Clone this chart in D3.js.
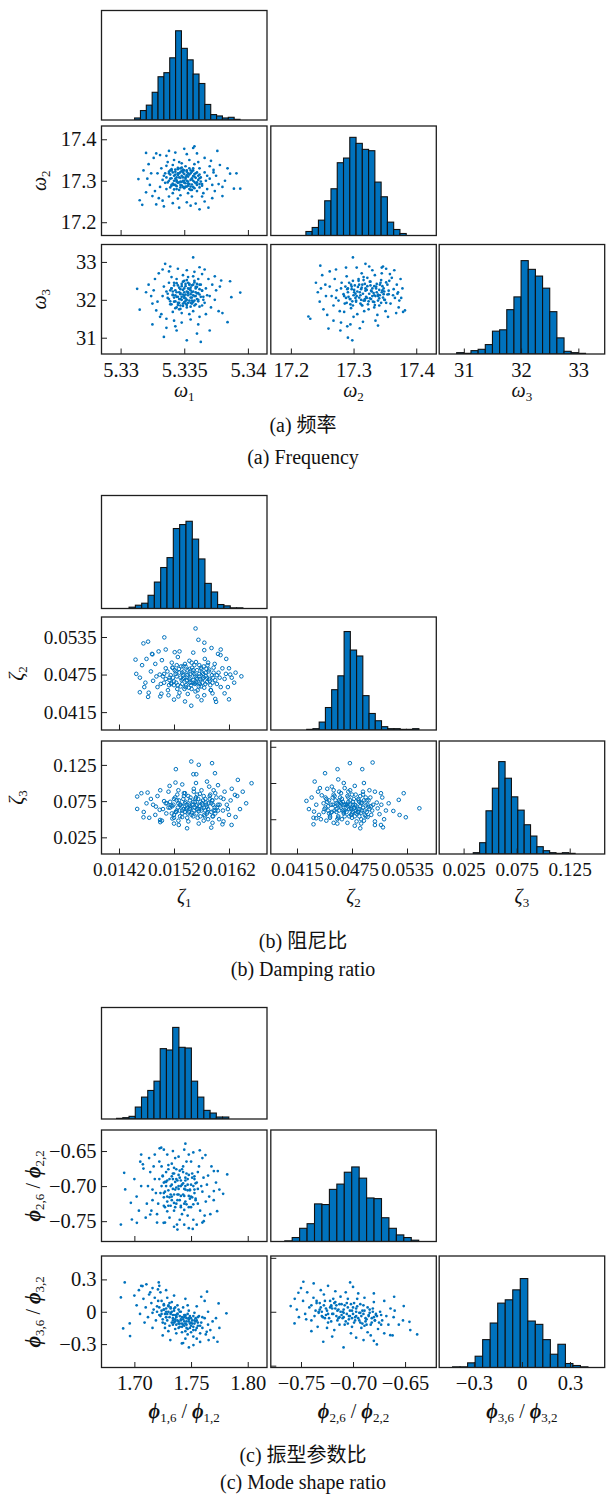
<!DOCTYPE html>
<html>
<head>
<meta charset="utf-8">
<script src="https://cdn.jsdelivr.net/npm/d3@7"></script>
<style>
  body { margin: 0; background: #fff; }
  svg text { font-family: "Liberation Serif", "Times New Roman", "Noto Sans CJK SC", serif; fill: #111; }
</style>
</head>
<body>
<div id="chart"></div>
<script>

// ---------- DATA ----------

// axis limits and ticks
const w1Domain = [5.3285, 5.3415], w2Domain = [17.168, 17.432], w3Domain = [30.57, 33.46];
const z1Domain = [0.013882, 0.016891], z2Domain = [0.038642, 0.056696], z3Domain = [0.002, 0.158];
const p1Domain = [1.671, 1.817], p2Domain = [-0.779, -0.620], p3Domain = [-0.517, 0.517];

const w1Ticks = [5.33, 5.335, 5.34], w1TickLabels = ["5.33", "5.335", "5.34"];
const w2Ticks = [17.2, 17.3, 17.4], w2TickLabels = ["17.2", "17.3", "17.4"];
const w3Ticks = [31, 32, 33], w3TickLabels = ["31", "32", "33"];
const z1Ticks = [0.0142, 0.0152, 0.0162], z1TickLabels = ["0.0142", "0.0152", "0.0162"];
const z2Ticks = [0.0415, 0.0475, 0.0535], z2TickLabels = ["0.0415", "0.0475", "0.0535"];
const z3Ticks = [0.025, 0.075, 0.125], z3TickLabels = ["0.025", "0.075", "0.125"];
const p1Ticks = [1.70, 1.75, 1.80], p1TickLabels = ["1.70", "1.75", "1.80"];
const p2Ticks = [-0.75, -0.70, -0.65], p2TickLabels = ["\u22120.75", "\u22120.70", "\u22120.65"];
const p3Ticks = [-0.3, 0, 0.3], p3TickLabels = ["\u22120.3", "0", "0.3"];

// unlabelled left ticks of the lower middle panels
const z3ExtraTicks = [0.05, 0.10, 0.15];
const p3ExtraTicks = [-0.5, 0, 0.5];

// histograms: [first bin edge, bin width], counts, y limit
const w1Bins = [5.3311, 0.00046], w1Counts = [3, 14, 22, 41, 64, 70, 92, 132, 106, 89, 68, 54, 23, 8, 6, 3, 4, 1], w1YMax = 162;
const w2Bins = [17.224, 0.01], w2Counts = [6, 12, 23, 52, 70, 109, 116, 147, 138, 129, 127, 80, 58, 20, 9, 3], w2YMax = 164;
const w3Bins = [30.875, 0.125], w3Counts = [2, 1, 5, 7, 14, 34, 36, 66, 85, 139, 126, 116, 98, 63, 24, 4, 2, 1], w3YMax = 163;
const z1Bins = [0.014383, 0.000115], z1Counts = [2, 5, 8, 20, 40, 62, 77, 121, 127, 132, 105, 75, 38, 25, 6, 4, 1, 1], z1YMax = 171;
const z2Bins = [0.04256, 0.00068], z2Counts = [1, 2, 12, 34, 61, 82, 149, 121, 112, 52, 25, 14, 5, 2, 2, 1, 1, 2], z2YMax = 171;
const z3Bins = [0.0341, 0.006], z3Counts = [2, 17, 65, 99, 139, 114, 86, 66, 44, 27, 11, 5, 2, 1, 2, 1], z3YMax = 170;
const p1Bins = [1.6843, 0.0055], p1Counts = [1, 2, 4, 18, 33, 43, 57, 106, 104, 138, 108, 107, 57, 33, 13, 9, 3, 3], p1YMax = 168;
const p2Bins = [-0.7656, 0.00715], p2Counts = [1, 6, 20, 27, 57, 56, 79, 87, 105, 113, 96, 66, 65, 36, 20, 10, 6, 2], p2YMax = 169;
const p3Bins = [-0.4335, 0.047], p3Counts = [1, 1, 7, 17, 42, 67, 97, 102, 117, 134, 70, 65, 42, 20, 35, 6, 3, 1], p3YMax = 168;

// scatter samples [x, y]: outer cloud and dense centre
const w1w2Pts = [[5.3314,17.304],[5.3315,17.253],[5.3317,17.242],[5.3320,17.367],[5.3320,17.272],[5.3325,17.263],[5.3328,17.243],[5.3334,17.238],[5.3346,17.235],[5.3357,17.379],[5.3358,17.383],[5.3362,17.231],[5.3369,17.235],[5.3376,17.372],[5.3380,17.263],[5.3386,17.317],[5.3391,17.318],[5.3394,17.281],[5.3389,17.281],[5.3378,17.338],[5.3373,17.326],[5.3338,17.372],[5.3350,17.377],[5.3328,17.366],
[5.3322,17.340],[5.3324,17.318],[5.3323,17.290],[5.3326,17.355],[5.3331,17.362],[5.3336,17.360],[5.3343,17.368],[5.3352,17.364],[5.3360,17.366],[5.3366,17.355],[5.3371,17.348],[5.3375,17.312],[5.3377,17.292],[5.3382,17.300],[5.3374,17.275],[5.3372,17.258],[5.3366,17.250],[5.3359,17.245],[5.3352,17.248],[5.3341,17.246],[5.3333,17.252],[5.3327,17.275],[5.3321,17.305],[5.3384,17.330],[5.3380,17.285],[5.3318,17.325],[5.3330,17.258],[5.3355,17.240],[5.3364,17.262],[5.3345,17.257],
[5.3332,17.330],[5.3334,17.312],[5.3335,17.295],[5.3336,17.280],[5.3337,17.345],[5.3338,17.322],[5.3339,17.305],[5.3340,17.288],[5.3341,17.270],[5.3341,17.338],[5.3342,17.350],[5.3343,17.315],[5.3344,17.298],[5.3344,17.280],[5.3345,17.328],[5.3346,17.308],[5.3347,17.290],[5.3347,17.265],[5.3348,17.342],[5.3349,17.320],[5.3350,17.300],[5.3350,17.282],[5.3351,17.335],[5.3352,17.312],[5.3353,17.293],[5.3353,17.270],[5.3354,17.350],[5.3355,17.325],[5.3356,17.305],[5.3357,17.285],[5.3358,17.340],[5.3359,17.318],[5.3360,17.296],[5.3360,17.275],[5.3362,17.330],[5.3363,17.308],[5.3364,17.288],[5.3366,17.320],[5.3367,17.300],[5.3368,17.280],[5.3370,17.335],[5.3370,17.305],[5.3333,17.302],[5.3336,17.336],[5.3340,17.325],[5.3343,17.305],[5.3346,17.345],[5.3349,17.285],[5.3352,17.325],[5.3355,17.278],[5.3358,17.310],[5.3361,17.345],[5.3365,17.270],[5.3338,17.262],[5.3356,17.262],[5.3345,17.318],[5.3351,17.308],[5.3348,17.297],[5.3342,17.290],[5.3354,17.315],[5.3362,17.292],[5.3339,17.315],[5.3347,17.330],[5.3357,17.330],[5.3331,17.285],[5.3368,17.312],[5.3372,17.290],[5.3329,17.318],[5.3373,17.320]];
const w1w2Core = [[5.3337,17.296],[5.3338,17.318],[5.3339,17.284],[5.3340,17.306],[5.3340,17.328],[5.3341,17.293],[5.3342,17.312],[5.3342,17.279],[5.3343,17.322],[5.3344,17.301],[5.3344,17.287],[5.3345,17.314],[5.3345,17.331],[5.3346,17.296],[5.3346,17.278],[5.3347,17.307],[5.3347,17.321],[5.3348,17.289],[5.3348,17.312],[5.3349,17.300],[5.3349,17.327],[5.3350,17.283],[5.3350,17.316],[5.3351,17.294],[5.3351,17.305],[5.3352,17.322],[5.3352,17.286],[5.3353,17.310],[5.3353,17.298],[5.3354,17.330],[5.3354,17.280],[5.3355,17.302],[5.3355,17.318],[5.3356,17.291],[5.3357,17.311],[5.3357,17.325],[5.3358,17.297],[5.3358,17.282],[5.3359,17.307],[5.3360,17.320],[5.3360,17.290],[5.3361,17.302],[5.3362,17.315],[5.3362,17.284],[5.3363,17.298],[5.3336,17.308],[5.3338,17.300],[5.3341,17.320],[5.3343,17.290],[5.3346,17.318],[5.3348,17.324],[5.3350,17.295],[5.3352,17.300],[5.3354,17.292],[5.3356,17.322],[5.3359,17.294],[5.3361,17.312],[5.3344,17.308],[5.3347,17.284],[5.3351,17.286],[5.3353,17.318],[5.3356,17.305],[5.3339,17.325],[5.3342,17.300],[5.3349,17.308],[5.3355,17.286],[5.3358,17.316],[5.3345,17.295],[5.3350,17.325],[5.3353,17.288],[5.3347,17.298],[5.3352,17.313],[5.3357,17.300],[5.3340,17.290],[5.3362,17.306],[5.3364,17.292],[5.3335,17.318],[5.3348,17.332],[5.3356,17.278],[5.3343,17.327]];

const w1w3Pts = [[5.3313,32.29],[5.3315,31.74],[5.3325,31.35],[5.3334,31.02],[5.3335,32.95],[5.3339,32.88],[5.3352,30.93],[5.3357,33.12],[5.3363,30.89],[5.3362,32.86],[5.3379,32.51],[5.3386,32.49],[5.3384,31.41],[5.3394,32.19],[5.3380,31.65],[5.3387,32.07],[5.3370,31.19],[5.3360,31.11],[5.3344,31.19],[5.3336,31.26],
[5.3338,32.45],[5.3340,32.30],[5.3341,32.12],[5.3342,31.95],[5.3343,31.78],[5.3344,32.55],[5.3345,32.38],[5.3346,32.20],[5.3347,32.02],[5.3347,31.85],[5.3348,31.65],[5.3349,32.48],[5.3350,32.30],[5.3351,32.14],[5.3351,31.97],[5.3352,31.80],[5.3353,32.60],[5.3354,32.42],[5.3355,32.25],[5.3355,32.06],[5.3356,31.90],[5.3357,31.70],[5.3358,32.50],[5.3359,32.34],[5.3360,32.17],[5.3361,32.00],[5.3362,31.82],[5.3363,32.40],[5.3364,32.24],[5.3365,32.08],[5.3366,31.92],[5.3336,32.22],[5.3337,32.05],[5.3339,31.88],[5.3340,32.60],[5.3343,32.25],[5.3345,31.92],[5.3348,32.36],[5.3350,32.05],[5.3352,32.52],[5.3353,32.20],[5.3356,31.98],[5.3357,32.40],[5.3359,32.10],[5.3361,32.55],[5.3362,32.28],[5.3364,31.85],[5.3367,32.30],[5.3368,32.12],[5.3346,31.75],[5.3354,31.62],[5.3341,31.68],[5.3334,32.35],[5.3333,32.10],[5.3349,32.65],[5.3357,32.62],[5.3344,32.08],[5.3358,31.85],[5.3351,32.42],[5.3347,32.15],[5.3353,31.92],[5.3360,32.42],[5.3342,32.45],[5.3355,32.32],[5.3349,31.90],
[5.3322,32.40],[5.3324,32.10],[5.3325,31.90],[5.3327,32.55],[5.3328,31.72],[5.3330,32.70],[5.3331,31.55],[5.3333,32.80],[5.3336,31.50],[5.3338,32.75],[5.3342,31.45],[5.3345,32.82],[5.3348,31.40],[5.3352,32.78],[5.3355,31.48],[5.3358,32.74],[5.3362,31.55],[5.3364,32.68],[5.3367,31.62],[5.3369,32.55],[5.3371,31.80],[5.3372,32.40],[5.3374,32.00],[5.3375,32.25],[5.3377,31.70],[5.3370,32.10],[5.3326,32.25],[5.3320,32.20],[5.3329,31.95],[5.3332,31.62],[5.3366,32.80],[5.3343,31.30],[5.3361,31.35],[5.3378,32.35],[5.3374,32.62]];
const w1w3Core = [[5.3338,32.02],[5.3339,32.25],[5.3340,31.88],[5.3341,32.14],[5.3342,32.38],[5.3343,31.96],[5.3344,32.20],[5.3344,31.80],[5.3345,32.08],[5.3346,32.32],[5.3346,31.92],[5.3347,32.18],[5.3348,32.42],[5.3348,32.00],[5.3349,31.84],[5.3349,32.26],[5.3350,32.10],[5.3350,31.94],[5.3351,32.36],[5.3351,32.04],[5.3352,32.22],[5.3352,31.86],[5.3353,32.12],[5.3353,32.45],[5.3354,31.98],[5.3354,32.28],[5.3355,32.15],[5.3355,31.82],[5.3356,32.06],[5.3356,32.38],[5.3357,31.94],[5.3357,32.22],[5.3358,32.10],[5.3359,31.88],[5.3359,32.30],[5.3360,32.02],[5.3361,32.18],[5.3361,31.96],[5.3362,32.40],[5.3363,32.08],[5.3364,32.24],[5.3337,32.16],[5.3340,32.30],[5.3342,32.06],[5.3345,31.86],[5.3347,32.28],[5.3349,32.14],[5.3352,32.00],[5.3354,32.40],[5.3356,32.20],[5.3358,31.98],[5.3360,32.34],[5.3343,32.12],[5.3346,32.02],[5.3350,32.20],[5.3353,32.30],[5.3355,31.92],[5.3357,32.12],[5.3359,32.20],[5.3348,32.08],[5.3351,31.90],[5.3344,32.44],[5.3362,32.14],[5.3339,31.96],[5.3365,32.00],[5.3341,32.22],[5.3353,32.18],[5.3347,31.76],[5.3358,32.46],[5.3350,32.50]];

const w2w3Pts = [[17.247,32.90],[17.228,31.56],[17.231,31.50],[17.260,31.24],[17.279,31.19],[17.291,31.00],[17.298,30.93],[17.299,33.12],[17.319,32.95],[17.347,32.88],[17.382,31.72],[17.379,31.68],[17.339,31.32],[17.373,31.98],[17.370,32.16],
[17.262,32.35],[17.265,32.10],[17.268,31.85],[17.270,32.55],[17.273,32.25],[17.276,31.98],[17.278,31.70],[17.281,32.45],[17.284,32.15],[17.286,31.90],[17.289,32.62],[17.291,32.30],[17.294,32.02],[17.296,31.78],[17.299,32.50],[17.301,32.20],[17.304,31.95],[17.306,31.62],[17.309,32.40],[17.311,32.12],[17.314,31.85],[17.316,32.60],[17.319,32.30],[17.321,32.05],[17.324,31.75],[17.326,32.48],[17.329,32.22],[17.331,31.95],[17.334,32.65],[17.336,32.35],[17.339,32.10],[17.341,31.85],[17.344,32.52],[17.346,32.25],[17.349,32.00],[17.351,31.70],[17.354,32.40],[17.356,32.15],[17.359,31.90],[17.361,32.58],[17.364,32.28],[17.366,32.05],[17.369,32.40],[17.371,32.20],[17.280,32.30],[17.288,32.05],[17.297,32.35],[17.303,32.05],[17.312,32.28],[17.318,31.98],[17.327,32.38],[17.333,32.12],[17.342,32.40],[17.348,32.15],[17.357,32.50],[17.363,32.12],[17.308,32.55],[17.322,32.58],[17.295,31.88],[17.317,31.70],[17.333,31.80],[17.352,31.92],[17.272,32.05],[17.285,31.68],[17.300,31.55],[17.338,31.60],[17.345,32.70],[17.330,32.78],[17.313,32.70],[17.358,32.68],
[17.240,32.45],[17.243,32.20],[17.246,31.95],[17.250,32.65],[17.252,31.75],[17.255,32.40],[17.258,31.60],[17.262,32.75],[17.268,31.45],[17.272,32.80],[17.280,31.40],[17.288,32.85],[17.295,31.35],[17.305,32.85],[17.315,31.42],[17.325,32.88],[17.335,31.45],[17.345,32.85],[17.355,31.55],[17.365,32.78],[17.372,31.80],[17.375,32.55],[17.378,32.30],[17.376,32.05],[17.248,32.30],[17.256,32.10],[17.310,31.25],[17.352,32.82],[17.368,31.65],[17.290,31.30]];
const w2w3Core = [[17.285,32.10],[17.287,32.35],[17.289,31.92],[17.291,32.20],[17.293,32.45],[17.295,32.02],[17.297,32.28],[17.299,31.85],[17.300,32.12],[17.302,32.38],[17.304,31.98],[17.306,32.22],[17.308,32.50],[17.309,32.06],[17.311,31.90],[17.313,32.32],[17.315,32.16],[17.316,31.98],[17.318,32.42],[17.320,32.08],[17.321,32.26],[17.323,31.88],[17.325,32.16],[17.327,32.48],[17.328,32.02],[17.330,32.30],[17.332,32.18],[17.334,31.86],[17.335,32.10],[17.337,32.42],[17.339,31.98],[17.341,32.26],[17.342,32.12],[17.344,31.92],[17.346,32.36],[17.347,32.06],[17.349,32.22],[17.350,32.00],[17.352,32.46],[17.354,32.14],[17.292,32.08],[17.296,32.40],[17.301,32.26],[17.305,32.10],[17.310,32.20],[17.314,32.40],[17.318,32.02],[17.322,32.36],[17.326,32.04],[17.330,32.10],[17.333,32.36],[17.337,32.20],[17.341,32.04],[17.345,32.20],[17.303,32.16],[17.312,32.00],[17.319,32.24],[17.328,32.24],[17.336,32.30],[17.298,31.96],[17.324,31.96],[17.343,32.45],[17.307,32.34],[17.348,32.30],[17.316,32.52],[17.333,31.94],[17.290,32.28],[17.356,32.24],[17.313,31.86],[17.339,32.14]];

const z1z2Pts = [[0.015592,0.05486],[0.015644,0.05305],[0.015024,0.05344],[0.014644,0.05248],[0.014729,0.05276],[0.014501,0.04988],[0.014514,0.04761],[0.014579,0.04467],[0.014729,0.04393],[0.014971,0.04444],[0.015514,0.04252],[0.015965,0.04314],[0.016200,0.04354],[0.015752,0.05259],[0.015882,0.05174],[0.016046,0.05061],[0.016144,0.04761],[0.016222,0.0475],[0.016425,0.04722],[0.016294,0.0462],[0.015213,0.05107],[0.014808,0.05073],
[0.01478,0.0480],[0.01482,0.0465],[0.01486,0.0492],[0.01490,0.0455],[0.01494,0.0475],[0.01498,0.0498],[0.01502,0.0462],[0.01505,0.0485],[0.01509,0.0450],[0.01512,0.0470],[0.01516,0.0494],[0.01520,0.0458],[0.01523,0.0480],[0.01527,0.0503],[0.01530,0.0446],[0.01534,0.0466],[0.01537,0.0488],[0.01541,0.0455],[0.01545,0.0475],[0.01548,0.0497],[0.01552,0.0462],[0.01555,0.0482],[0.01559,0.0448],[0.01562,0.0468],[0.01566,0.0490],[0.01569,0.0456],[0.01573,0.0476],[0.01576,0.0500],[0.01580,0.0463],[0.01584,0.0483],[0.01587,0.0450],[0.01591,0.0470],[0.01594,0.0492],[0.01598,0.0460],[0.01601,0.0478],[0.01605,0.0455],[0.01608,0.0485],[0.01612,0.0468],[0.01500,0.0472],[0.01515,0.0462],[0.01525,0.0472],[0.01535,0.0478],[0.01543,0.0465],[0.01550,0.0470],[0.01557,0.0476],[0.01565,0.0462],[0.01572,0.0468],[0.01578,0.0473],[0.01585,0.0465],[0.01592,0.0478],[0.01540,0.0492],[0.01560,0.0495],[0.01532,0.0456],[0.01552,0.0452],[0.01570,0.0484],[0.01518,0.0486],[0.01582,0.0494],[0.01496,0.0460],[0.01488,0.0472],[0.01603,0.0470],[0.01563,0.0440],[0.01545,0.0444],[0.01590,0.0445],[0.01528,0.0440],[0.01510,0.0442],[0.01575,0.0442],[0.01558,0.0460],[0.01538,0.0470],[0.01566,0.0472],[0.01548,0.0484],
[0.01458,0.0470],[0.01462,0.0490],[0.01466,0.0455],[0.01470,0.0500],[0.01474,0.0446],[0.01480,0.0508],[0.01492,0.0512],[0.01505,0.0515],[0.01530,0.0512],[0.01555,0.0510],[0.01575,0.0514],[0.01600,0.0508],[0.01615,0.0500],[0.01620,0.0485],[0.01625,0.0470],[0.01618,0.0455],[0.01612,0.0445],[0.01595,0.0436],[0.01570,0.0434],[0.01540,0.0432],[0.01520,0.0435],[0.01495,0.0440],[0.01468,0.0462],[0.01632,0.0478],[0.01605,0.0515]];
const z1z2Core = [[0.01505,0.0468],[0.01508,0.0480],[0.01511,0.0458],[0.01514,0.0474],[0.01517,0.0486],[0.01520,0.0464],[0.01523,0.0476],[0.01526,0.0452],[0.01529,0.0484],[0.01532,0.0470],[0.01535,0.0460],[0.01538,0.0480],[0.01541,0.0488],[0.01544,0.0466],[0.01547,0.0454],[0.01550,0.0476],[0.01553,0.0486],[0.01556,0.0462],[0.01559,0.0472],[0.01562,0.0482],[0.01565,0.0456],[0.01568,0.0468],[0.01571,0.0478],[0.01574,0.0488],[0.01577,0.0460],[0.01580,0.0470],[0.01583,0.0480],[0.01586,0.0458],[0.01589,0.0474],[0.01592,0.0486],[0.01595,0.0466],[0.01512,0.0466],[0.01518,0.0470],[0.01524,0.0462],[0.01530,0.0478],[0.01536,0.0468],[0.01542,0.0458],[0.01548,0.0468],[0.01554,0.0478],[0.01560,0.0462],[0.01566,0.0476],[0.01572,0.0462],[0.01578,0.0478],[0.01584,0.0468],[0.01590,0.0462],[0.01533,0.0488],[0.01545,0.0482],[0.01557,0.0490],[0.01569,0.0486],[0.01581,0.0490],[0.01527,0.0458],[0.01539,0.0452],[0.01551,0.0458],[0.01563,0.0450],[0.01575,0.0454],[0.01587,0.0450],[0.01521,0.0482],[0.01543,0.0474],[0.01555,0.0466],[0.01567,0.0460],[0.01579,0.0484],[0.01515,0.0460],[0.01549,0.0462],[0.01561,0.0470],[0.01573,0.0470],[0.01537,0.0474],[0.01525,0.0490],[0.01598,0.0474],[0.01502,0.0476],[0.01552,0.0494]];

const z1z3Pts = [[0.015514,0.1297],[0.015650,0.1251],[0.015234,0.1191],[0.015892,0.1274],[0.015552,0.1121],[0.015605,0.1121],[0.015945,0.1135],[0.016361,0.1043],[0.016610,0.0997],[0.016512,0.0720],[0.016308,0.0836],[0.016247,0.0421],[0.016081,0.0430],[0.015877,0.0384],[0.015438,0.0375],[0.014531,0.0642],[0.014531,0.0813],[0.014607,0.0859],[0.014720,0.0868],[0.014645,0.0527],[0.015227,0.1006],[0.015287,0.0421],[0.014947,0.0490],[0.014871,0.0674],
[0.01482,0.0700],[0.01486,0.0560],[0.01490,0.0820],[0.01494,0.0630],[0.01498,0.0480],[0.01502,0.0750],[0.01506,0.0580],[0.01510,0.0880],[0.01513,0.0660],[0.01517,0.0510],[0.01520,0.0780],[0.01524,0.0600],[0.01528,0.0900],[0.01531,0.0700],[0.01535,0.0530],[0.01538,0.0820],[0.01542,0.0640],[0.01546,0.0470],[0.01549,0.0760],[0.01553,0.0590],[0.01556,0.0920],[0.01560,0.0690],[0.01563,0.0520],[0.01567,0.0850],[0.01570,0.0650],[0.01574,0.0480],[0.01577,0.0780],[0.01581,0.0600],[0.01584,0.0950],[0.01588,0.0720],[0.01591,0.0540],[0.01595,0.0860],[0.01598,0.0660],[0.01602,0.0500],[0.01605,0.0800],[0.01609,0.0620],[0.01612,0.0880],[0.01616,0.0700],[0.01620,0.0560],[0.01623,0.0760],[0.01515,0.0690],[0.01530,0.0620],[0.01540,0.0720],[0.01550,0.0660],[0.01558,0.0740],[0.01565,0.0610],[0.01572,0.0700],[0.01580,0.0670],[0.01590,0.0760],[0.01600,0.0700],[0.01545,0.0580],[0.01560,0.0800],[0.01575,0.0560],[0.01585,0.0820],[0.01525,0.0760],[0.01535,0.0580],[0.01555,0.0540],[0.01570,0.0900],[0.01595,0.0620],[0.01610,0.0780],[0.01500,0.0640],[0.01520,0.0560],[0.01548,0.0700],[0.01562,0.0640],[0.01578,0.0730],[0.01540,0.0860],[0.01505,0.0720],[0.01618,0.0640],[0.01592,0.0900],[0.01528,0.0480],
[0.01465,0.0600],[0.01470,0.0720],[0.01475,0.0520],[0.01478,0.0780],[0.01495,0.0900],[0.01512,0.0960],[0.01535,0.0980],[0.01560,0.1000],[0.01580,0.1020],[0.01600,0.0970],[0.01625,0.0920],[0.01635,0.0820],[0.01640,0.0640],[0.01632,0.0530],[0.01610,0.0470],[0.01590,0.0450],[0.01565,0.0440],[0.01520,0.0440],[0.01495,0.0460],[0.01645,0.0880]];
const z1z3Core = [[0.01510,0.0660],[0.01513,0.0740],[0.01516,0.0580],[0.01519,0.0700],[0.01522,0.0800],[0.01525,0.0620],[0.01528,0.0720],[0.01531,0.0540],[0.01534,0.0680],[0.01537,0.0780],[0.01540,0.0600],[0.01543,0.0700],[0.01546,0.0820],[0.01549,0.0640],[0.01552,0.0560],[0.01555,0.0740],[0.01558,0.0660],[0.01561,0.0580],[0.01564,0.0780],[0.01567,0.0680],[0.01570,0.0620],[0.01573,0.0760],[0.01576,0.0540],[0.01579,0.0700],[0.01582,0.0640],[0.01585,0.0780],[0.01588,0.0600],[0.01591,0.0700],[0.01594,0.0660],[0.01597,0.0800],[0.01600,0.0620],[0.01517,0.0680],[0.01523,0.0600],[0.01529,0.0760],[0.01535,0.0620],[0.01541,0.0740],[0.01547,0.0600],[0.01553,0.0700],[0.01559,0.0780],[0.01565,0.0640],[0.01571,0.0720],[0.01577,0.0620],[0.01583,0.0720],[0.01589,0.0760],[0.01595,0.0580],[0.01532,0.0700],[0.01544,0.0660],[0.01556,0.0620],[0.01568,0.0740],[0.01580,0.0580],[0.01592,0.0620],[0.01526,0.0840],[0.01538,0.0860],[0.01550,0.0800],[0.01562,0.0840],[0.01574,0.0820],[0.01586,0.0840],[0.01520,0.0520],[0.01544,0.0520],[0.01568,0.0540],[0.01590,0.0540],[0.01550,0.0680],[0.01562,0.0700],[0.01574,0.0660],[0.01538,0.0640],[0.01527,0.0660],[0.01603,0.0700],[0.01507,0.0720],[0.01556,0.0880],[0.01582,0.0500]];

const z2z3Pts = [[0.04253,0.0753],[0.04343,0.1020],[0.04456,0.1135],[0.04592,0.1191],[0.04727,0.1274],[0.04862,0.1191],[0.04975,0.1283],[0.05485,0.0651],[0.05314,0.0859],[0.05260,0.0767],[0.05337,0.0527],[0.05269,0.0559],[0.05201,0.0614],[0.05088,0.0388],[0.05066,0.0421],[0.04840,0.0375],[0.04336,0.0605],[0.04359,0.0513],[0.05066,0.0859],
[0.0436,0.0700],[0.0439,0.0560],[0.0442,0.0830],[0.0445,0.0640],[0.0447,0.0480],[0.0450,0.0760],[0.0452,0.0590],[0.0455,0.0900],[0.0457,0.0680],[0.0460,0.0520],[0.0462,0.0800],[0.0465,0.0620],[0.0467,0.0930],[0.0470,0.0710],[0.0472,0.0540],[0.0475,0.0840],[0.0477,0.0650],[0.0480,0.0470],[0.0482,0.0760],[0.0485,0.0590],[0.0487,0.0880],[0.0490,0.0690],[0.0492,0.0530],[0.0495,0.0800],[0.0497,0.0620],[0.0500,0.0470],[0.0502,0.0730],[0.0505,0.0570],[0.0444,0.0720],[0.0449,0.0620],[0.0454,0.0700],[0.0458,0.0600],[0.0463,0.0720],[0.0466,0.0580],[0.0469,0.0660],[0.0473,0.0760],[0.0476,0.0600],[0.0479,0.0690],[0.0483,0.0640],[0.0486,0.0730],[0.0489,0.0560],[0.0493,0.0670],[0.0498,0.0700],[0.0456,0.0820],[0.0464,0.0500],[0.0471,0.0880],[0.0478,0.0540],[0.0484,0.0820],[0.0491,0.0760],[0.0496,0.0560],[0.0461,0.0760],[0.0474,0.0640],[0.0468,0.0700],[0.0481,0.0600],[0.0451,0.0540],[0.0446,0.0800],[0.0488,0.0480],[0.0459,0.0440],[0.0470,0.0450],[0.0441,0.0500],[0.0503,0.0650],[0.0507,0.0700],[0.0453,0.0950],[0.0466,0.1000],[0.0478,0.0960],[0.0494,0.0900],[0.0438,0.0880],[0.0448,0.0920],[0.0485,0.0440],[0.0476,0.0700],
[0.0428,0.0640],[0.0431,0.0800],[0.0433,0.0520],[0.0440,0.0930],[0.0460,0.1050],[0.0488,0.1000],[0.0500,0.0880],[0.0508,0.0800],[0.0512,0.0620],[0.0510,0.0500],[0.0500,0.0420],[0.0478,0.0410],[0.0455,0.0450],[0.0515,0.0720],[0.0433,0.0430]];
const z2z3Core = [[0.0446,0.0660],[0.0448,0.0740],[0.0450,0.0580],[0.0452,0.0700],[0.0454,0.0800],[0.0456,0.0620],[0.0458,0.0720],[0.0460,0.0540],[0.0462,0.0680],[0.0464,0.0780],[0.0466,0.0600],[0.0468,0.0700],[0.0470,0.0820],[0.0472,0.0640],[0.0474,0.0560],[0.0476,0.0740],[0.0478,0.0660],[0.0480,0.0580],[0.0482,0.0780],[0.0484,0.0680],[0.0486,0.0620],[0.0488,0.0760],[0.0490,0.0540],[0.0492,0.0700],[0.0494,0.0640],[0.0449,0.0680],[0.0453,0.0600],[0.0457,0.0760],[0.0461,0.0620],[0.0465,0.0740],[0.0469,0.0600],[0.0473,0.0700],[0.0477,0.0780],[0.0481,0.0640],[0.0485,0.0720],[0.0489,0.0620],[0.0493,0.0760],[0.0459,0.0700],[0.0463,0.0660],[0.0467,0.0620],[0.0471,0.0740],[0.0475,0.0580],[0.0479,0.0620],[0.0483,0.0740],[0.0487,0.0660],[0.0455,0.0840],[0.0463,0.0860],[0.0471,0.0800],[0.0479,0.0840],[0.0487,0.0840],[0.0451,0.0520],[0.0459,0.0500],[0.0467,0.0540],[0.0475,0.0520],[0.0483,0.0540],[0.0491,0.0600],[0.0470,0.0680],[0.0466,0.0700],[0.0474,0.0660],[0.0462,0.0740],[0.0478,0.0700],[0.0458,0.0640],[0.0482,0.0600],[0.0496,0.0680],[0.0444,0.0600],[0.0447,0.0780],[0.0485,0.0500],[0.0461,0.0880],[0.0473,0.0900],[0.0490,0.0800]];

const p1p2Pts = [[1.6881,-0.7548],[1.6910,-0.6810],[1.6919,-0.7048],[1.6969,-0.7238],[1.6978,-0.7476],[1.7022,-0.7524],[1.7052,-0.6652],[1.7075,-0.6690],[1.7223,-0.6462],[1.7237,-0.6452],[1.7450,-0.6395],[1.7577,-0.6490],[1.7627,-0.6557],[1.7701,-0.6786],[1.7736,-0.6786],[1.7819,-0.6833],[1.7783,-0.7110],[1.7730,-0.7357],[1.7612,-0.7500],[1.7515,-0.7610],[1.7376,-0.7548],[1.7258,-0.7524],[1.7140,-0.7405],[1.7701,-0.7071],
[1.712,-0.700],[1.714,-0.680],[1.716,-0.720],[1.718,-0.690],[1.720,-0.740],[1.722,-0.665],[1.723,-0.710],[1.725,-0.685],[1.727,-0.730],[1.728,-0.700],[1.730,-0.670],[1.731,-0.745],[1.733,-0.715],[1.734,-0.690],[1.736,-0.660],[1.737,-0.725],[1.739,-0.700],[1.740,-0.678],[1.742,-0.740],[1.743,-0.712],[1.745,-0.688],[1.746,-0.665],[1.748,-0.730],[1.749,-0.705],[1.751,-0.682],[1.752,-0.748],[1.754,-0.718],[1.755,-0.695],[1.757,-0.672],[1.758,-0.735],[1.760,-0.708],[1.761,-0.688],[1.763,-0.722],[1.764,-0.698],[1.716,-0.705],[1.721,-0.725],[1.726,-0.695],[1.729,-0.715],[1.732,-0.700],[1.735,-0.735],[1.738,-0.712],[1.741,-0.692],[1.744,-0.725],[1.747,-0.698],[1.750,-0.715],[1.753,-0.705],[1.756,-0.725],[1.735,-0.682],[1.745,-0.705],[1.730,-0.728],[1.740,-0.748],[1.750,-0.665],[1.724,-0.672],[1.719,-0.710],[1.759,-0.700],[1.762,-0.742],[1.733,-0.668],[1.743,-0.672],[1.747,-0.742],[1.727,-0.752],[1.736,-0.705],[1.753,-0.690],[1.726,-0.710],[1.741,-0.730],[1.756,-0.680],[1.715,-0.735],[1.766,-0.715],[1.739,-0.658],[1.748,-0.655],[1.729,-0.655],[1.744,-0.755],[1.755,-0.755],[1.717,-0.672],[1.765,-0.685],
[1.700,-0.690],[1.702,-0.715],[1.704,-0.735],[1.706,-0.700],[1.708,-0.675],[1.710,-0.745],[1.713,-0.660],[1.718,-0.655],[1.726,-0.648],[1.734,-0.650],[1.744,-0.648],[1.752,-0.652],[1.760,-0.660],[1.768,-0.672],[1.772,-0.695],[1.770,-0.720],[1.767,-0.740],[1.760,-0.752],[1.748,-0.760],[1.735,-0.758],[1.720,-0.752],[1.711,-0.725],[1.775,-0.705],[1.706,-0.655],[1.738,-0.762]];
const p1p2Core = [[1.724,-0.700],[1.725,-0.686],[1.726,-0.716],[1.727,-0.694],[1.728,-0.680],[1.729,-0.722],[1.730,-0.706],[1.731,-0.690],[1.732,-0.728],[1.733,-0.698],[1.734,-0.682],[1.735,-0.712],[1.736,-0.694],[1.737,-0.676],[1.738,-0.720],[1.739,-0.704],[1.740,-0.688],[1.741,-0.728],[1.742,-0.698],[1.743,-0.680],[1.744,-0.714],[1.745,-0.692],[1.746,-0.726],[1.747,-0.706],[1.748,-0.684],[1.749,-0.718],[1.750,-0.698],[1.751,-0.688],[1.752,-0.726],[1.753,-0.710],[1.754,-0.696],[1.727,-0.708],[1.729,-0.692],[1.731,-0.716],[1.733,-0.686],[1.735,-0.724],[1.737,-0.702],[1.739,-0.684],[1.741,-0.714],[1.743,-0.696],[1.745,-0.722],[1.747,-0.690],[1.749,-0.706],[1.751,-0.716],[1.753,-0.686],[1.726,-0.728],[1.732,-0.712],[1.738,-0.692],[1.744,-0.704],[1.750,-0.730],[1.728,-0.694],[1.734,-0.704],[1.740,-0.720],[1.746,-0.682],[1.752,-0.700],[1.730,-0.676],[1.736,-0.730],[1.742,-0.676],[1.748,-0.714],[1.754,-0.720],[1.733,-0.720],[1.739,-0.712],[1.745,-0.700],[1.737,-0.690],[1.741,-0.700],[1.722,-0.690],[1.756,-0.704],[1.735,-0.674],[1.744,-0.734],[1.729,-0.736]];

const p1p3Pts = [[1.6881,0.133],[1.6915,0.272],[1.6901,-0.155],[1.6959,-0.108],[1.6962,-0.226],[1.7072,0.238],[1.7106,0.254],[1.7215,0.272],[1.7208,0.207],[1.7481,-0.331],[1.7733,-0.278],[1.7812,-0.015],[1.7743,0.077],[1.7641,0.186],[1.7590,0.139],[1.7638,-0.186],[1.7655,-0.263],[1.7521,-0.309],[1.7317,-0.263],[1.7419,-0.294],
[1.708,0.120],[1.710,0.040],[1.712,-0.050],[1.713,0.160],[1.715,0.080],[1.716,-0.010],[1.718,0.130],[1.719,-0.080],[1.720,0.050],[1.722,-0.030],[1.723,0.180],[1.724,0.100],[1.725,-0.100],[1.726,0.020],[1.728,-0.050],[1.729,0.130],[1.730,0.060],[1.731,-0.130],[1.732,-0.010],[1.733,0.090],[1.734,-0.080],[1.735,0.030],[1.736,-0.160],[1.737,-0.040],[1.738,0.060],[1.739,-0.110],[1.740,0.000],[1.741,-0.070],[1.742,-0.190],[1.743,0.040],[1.744,-0.130],[1.745,-0.030],[1.746,-0.090],[1.747,-0.210],[1.748,0.010],[1.749,-0.150],[1.750,-0.060],[1.751,-0.110],[1.752,-0.230],[1.753,-0.010],[1.754,-0.170],[1.755,-0.080],[1.756,-0.130],[1.757,-0.040],[1.758,-0.200],[1.759,-0.100],[1.760,-0.150],[1.762,-0.060],[1.763,-0.210],[1.765,-0.120],[1.767,-0.170],[1.769,-0.090],[1.728,0.000],[1.732,0.030],[1.736,-0.090],[1.738,-0.020],[1.742,-0.110],[1.744,-0.050],[1.746,-0.150],[1.748,-0.070],[1.750,-0.190],[1.740,-0.140],[1.734,-0.120],[1.726,0.070],[1.717,0.020],[1.721,0.100],[1.745,-0.250],[1.755,-0.250],[1.737,-0.200],[1.730,-0.180],[1.752,-0.040],[1.760,-0.050],[1.714,0.180],[1.727,-0.150],[1.747,0.060],
[1.700,0.150],[1.702,0.060],[1.704,0.200],[1.705,-0.020],[1.706,0.240],[1.709,-0.100],[1.716,0.220],[1.722,0.240],[1.728,0.200],[1.735,0.150],[1.745,0.120],[1.755,0.050],[1.765,0.000],[1.772,-0.060],[1.775,-0.150],[1.770,-0.240],[1.758,-0.280],[1.743,-0.290],[1.725,-0.220],[1.716,-0.150],[1.762,0.100]];
const p1p3Core = [[1.722,0.040],[1.723,-0.040],[1.724,0.010],[1.725,-0.070],[1.726,0.060],[1.727,-0.020],[1.728,0.030],[1.729,-0.080],[1.730,0.000],[1.731,-0.050],[1.732,0.040],[1.733,-0.100],[1.734,-0.030],[1.735,0.010],[1.736,-0.070],[1.737,-0.120],[1.738,-0.020],[1.739,-0.090],[1.740,-0.040],[1.741,0.000],[1.742,-0.140],[1.743,-0.070],[1.744,-0.030],[1.745,-0.110],[1.746,-0.060],[1.747,-0.160],[1.748,-0.090],[1.749,-0.040],[1.750,-0.130],[1.751,-0.080],[1.752,-0.170],[1.753,-0.110],[1.754,-0.060],[1.755,-0.150],[1.756,-0.100],[1.724,-0.020],[1.726,0.020],[1.728,-0.050],[1.730,0.050],[1.732,-0.020],[1.734,-0.060],[1.736,-0.030],[1.738,-0.080],[1.740,-0.110],[1.742,-0.050],[1.744,-0.090],[1.746,-0.120],[1.748,-0.060],[1.750,-0.100],[1.752,-0.140],[1.754,-0.090],[1.729,-0.020],[1.733,0.000],[1.737,-0.050],[1.741,-0.080],[1.745,-0.040],[1.749,-0.110],[1.753,-0.080],[1.735,-0.100],[1.739,-0.150],[1.743,-0.120],[1.731,0.080],[1.739,0.020],[1.747,-0.020],[1.727,-0.110],[1.745,-0.180],[1.756,-0.050],[1.720,0.000],[1.758,-0.130],[1.736,0.040]];

const p2p3Pts = [[-0.7599,0.053],[-0.7562,-0.108],[-0.7525,0.176],[-0.7477,0.278],[-0.7378,0.263],[-0.7286,-0.278],[-0.7091,-0.331],[-0.7028,0.272],[-0.6771,-0.303],[-0.6605,0.139],[-0.6513,0.053],[-0.6458,-0.093],[-0.6384,-0.210],[-0.6450,-0.170],[-0.6642,-0.217],[-0.6899,-0.263],
[-0.748,0.100],[-0.746,-0.020],[-0.744,0.180],[-0.742,0.040],[-0.740,-0.080],[-0.738,0.130],[-0.736,0.010],[-0.734,-0.140],[-0.732,0.080],[-0.730,-0.040],[-0.728,0.160],[-0.726,0.030],[-0.724,-0.100],[-0.722,0.100],[-0.720,-0.020],[-0.718,-0.170],[-0.716,0.060],[-0.714,-0.060],[-0.712,0.140],[-0.710,0.000],[-0.708,-0.120],[-0.706,0.080],[-0.704,-0.040],[-0.702,-0.200],[-0.700,0.040],[-0.698,-0.080],[-0.696,0.120],[-0.694,-0.010],[-0.692,-0.150],[-0.690,0.060],[-0.688,-0.060],[-0.686,-0.190],[-0.684,0.020],[-0.682,-0.100],[-0.680,0.090],[-0.678,-0.030],[-0.676,-0.160],[-0.674,0.000],[-0.672,-0.080],[-0.670,-0.200],[-0.668,-0.040],[-0.666,-0.120],[-0.664,0.030],[-0.740,0.060],[-0.733,0.000],[-0.727,-0.060],[-0.721,0.050],[-0.715,0.010],[-0.709,-0.050],[-0.703,0.010],[-0.697,-0.040],[-0.691,0.010],[-0.685,-0.040],[-0.679,-0.080],[-0.673,-0.120],[-0.719,0.120],[-0.711,0.070],[-0.705,0.120],[-0.699,0.080],[-0.693,-0.100],[-0.687,-0.120],[-0.681,0.030],[-0.725,-0.150],[-0.713,-0.120],[-0.701,-0.140],[-0.689,0.130],[-0.735,0.100],[-0.731,0.200],[-0.717,0.190],[-0.707,0.180],[-0.695,0.170],[-0.683,-0.220],[-0.697,-0.240],[-0.745,-0.070],[-0.661,-0.050],
[-0.756,0.120],[-0.754,0.020],[-0.752,-0.050],[-0.750,0.220],[-0.724,0.240],[-0.700,0.230],[-0.680,0.170],[-0.670,0.100],[-0.660,0.010],[-0.656,-0.120],[-0.662,-0.220],[-0.680,-0.270],[-0.720,-0.230],[-0.740,-0.180],[-0.652,-0.080]];
const p2p3Core = [[-0.735,0.080],[-0.733,-0.010],[-0.731,0.040],[-0.729,-0.050],[-0.727,0.100],[-0.725,0.010],[-0.723,-0.060],[-0.721,0.060],[-0.719,-0.020],[-0.717,0.030],[-0.715,-0.080],[-0.713,0.070],[-0.711,-0.030],[-0.709,0.020],[-0.707,-0.090],[-0.705,0.040],[-0.703,-0.040],[-0.701,0.010],[-0.699,-0.100],[-0.697,0.030],[-0.695,-0.060],[-0.693,-0.010],[-0.691,-0.110],[-0.689,0.010],[-0.687,-0.070],[-0.685,-0.030],[-0.683,-0.120],[-0.681,0.000],[-0.679,-0.080],[-0.677,-0.040],[-0.675,-0.100],[-0.732,0.020],[-0.728,0.060],[-0.724,-0.020],[-0.720,0.030],[-0.716,-0.040],[-0.712,0.000],[-0.708,0.060],[-0.704,-0.070],[-0.700,-0.020],[-0.696,0.050],[-0.692,-0.040],[-0.688,-0.090],[-0.684,-0.010],[-0.680,-0.050],[-0.726,-0.030],[-0.718,0.080],[-0.710,-0.060],[-0.702,0.070],[-0.694,-0.080],[-0.686,0.040],[-0.678,-0.020],[-0.730,0.000],[-0.722,0.040],[-0.714,0.020],[-0.706,-0.020],[-0.698,-0.050],[-0.690,-0.020],[-0.682,-0.060],[-0.709,-0.010],[-0.701,-0.060],[-0.713,-0.050],[-0.697,0.000],[-0.717,0.090],[-0.693,0.070],[-0.737,-0.040],[-0.673,-0.030],[-0.705,-0.110],[-0.689,-0.130],[-0.721,-0.090]];

const captionsCn = ["(a) 频率", "(b) 阻尼比", "(c) 振型参数比"];
const captionsEn = ["(a) Frequency", "(b) Damping ratio", "(c) Mode shape ratio"];

// ---------- SVG CANVAS ----------

const width = 606, height = 1497;
const blue = "#0072BD", ink = "#1e1e1e";
const colX = [101.5, 270.8, 439.2], panelW = 165.5;

const svg = d3.select("#chart").append("svg")
    .attr("width", width)
    .attr("height", height);

// build the variable tables from the arrays above
function v(domain, ticks, tickLabels, bins, counts, yMax, label) {
    return {domain, ticks, tickLabels, bins, counts, yMax, label};
}

const groups = [
    {
        vars: [
            v(w1Domain, w1Ticks, w1TickLabels, w1Bins, w1Counts, w1YMax, [["ω", "1"]]),
            v(w2Domain, w2Ticks, w2TickLabels, w2Bins, w2Counts, w2YMax, [["ω", "2"]]),
            v(w3Domain, w3Ticks, w3TickLabels, w3Bins, w3Counts, w3YMax, [["ω", "3"]])
        ],
        pts: {"1,0": w1w2Pts.concat(w1w2Core), "2,0": w1w3Pts.concat(w1w3Core), "2,1": w2w3Pts.concat(w2w3Core)},
        tops: [10.5, 126, 244.5], h: 109.5,
        ring: false, extraTicks: null, tickFont: 20.5,
        yLabelX: 46, xLabelDy: 43, cap: [432, 464]
    },
    {
        vars: [
            v(z1Domain, z1Ticks, z1TickLabels, z1Bins, z1Counts, z1YMax, [["ζ", "1"]]),
            v(z2Domain, z2Ticks, z2TickLabels, z2Bins, z2Counts, z2YMax, [["ζ", "2"]]),
            v(z3Domain, z3Ticks, z3TickLabels, z3Bins, z3Counts, z3YMax, [["ζ", "3"]])
        ],
        pts: {"1,0": z1z2Pts.concat(z1z2Core), "2,0": z1z3Pts.concat(z1z3Core), "2,1": z2z3Pts.concat(z2z3Core)},
        tops: [495.5, 617, 741], h: 113,
        ring: true, extraTicks: z3ExtraTicks, tickFont: 19.2,
        yLabelX: 23, xLabelDy: 49, cap: [948, 976]
    },
    {
        vars: [
            v(p1Domain, p1Ticks, p1TickLabels, p1Bins, p1Counts, p1YMax, [["ϕ", "1,6"], " / ", ["ϕ", "1,2"]]),
            v(p2Domain, p2Ticks, p2TickLabels, p2Bins, p2Counts, p2YMax, [["ϕ", "2,6"], " / ", ["ϕ", "2,2"]]),
            v(p3Domain, p3Ticks, p3TickLabels, p3Bins, p3Counts, p3YMax, [["ϕ", "3,6"], " / ", ["ϕ", "3,2"]])
        ],
        pts: {"1,0": p1p2Pts.concat(p1p2Core), "2,0": p1p3Pts.concat(p1p3Core), "2,1": p2p3Pts.concat(p2p3Core)},
        tops: [1007.5, 1130, 1256], h: 111.5,
        ring: false, extraTicks: p3ExtraTicks, tickFont: 20.5,
        yLabelX: 40, xLabelDy: 50, cap: [1462, 1489]
    }
];

// LABEL WITH ITALIC SYMBOL AND SUBSCRIPT

function writeLabel(text, parts) {
    parts.forEach(function(p) {
        if (typeof p === "string") {
            text.append("tspan").text(p);
        } else {
            text.append("tspan").attr("font-style", "italic")
                .attr("font-weight", p[0] === "ϕ" ? 700 : 400).text(p[0]);
            text.append("tspan").attr("font-size", 13).attr("dy", 4).text(p[1]);
            text.append("tspan").attr("font-size", 1).attr("dy", -4).text("\u200a");
        }
    });
}

function styleAxis(a, labelled, size) {
    a.select(".domain").remove();
    a.selectAll(".tick line").attr("stroke", ink).attr("stroke-width", 1);
    a.selectAll(".tick text")
        .attr("font-size", size)
        .attr("font-family", "Liberation Serif, Times New Roman, serif")
        .attr("fill", "#111");
    if (!labelled) a.selectAll(".tick text").remove();
}

let clipId = 0;

groups.forEach(function(grp, gi) {

    for (let r = 0; r < 3; r++) {
        for (let c = 0; c <= r; c++) {

            const x0 = colX[c], y0 = grp.tops[r], h = grp.h;
            const g = svg.append("g").attr("transform", `translate(${x0},${y0})`);

            const xScale = d3.scaleLinear().domain(grp.vars[c].domain).range([0, panelW]);

            const id = "clip" + (clipId++);
            g.append("clipPath").attr("id", id)
                .append("rect").attr("width", panelW).attr("height", h);
            const plot = g.append("g").attr("clip-path", `url(#${id})`);

            let yScale;

            if (r === c) {
                // HISTOGRAM
                const vr = grp.vars[c];
                yScale = d3.scaleLinear().domain([0, vr.yMax]).range([h, 0]);
                plot.selectAll("rect.bar")
                    .data(vr.counts)
                    .enter()
                    .append("rect")
                        .attr("class", "bar")
                        .attr("x", (d, i) => xScale(vr.bins[0] + i * vr.bins[1]))
                        .attr("width", (d, i) => xScale(vr.bins[0] + (i + 1) * vr.bins[1]) - xScale(vr.bins[0] + i * vr.bins[1]))
                        .attr("y", d => yScale(d))
                        .attr("height", d => h - yScale(d))
                        .attr("fill", blue)
                        .attr("stroke", "#111")
                        .attr("stroke-width", 1.1);
            } else {
                // SCATTER
                yScale = d3.scaleLinear().domain(grp.vars[r].domain).range([h, 0]);
                const pts = plot.selectAll("circle")
                    .data(grp.pts[r + "," + c])
                    .enter()
                    .append("circle")
                        .attr("cx", d => xScale(d[0]))
                        .attr("cy", d => yScale(d[1]));
                if (grp.ring) {
                    pts.attr("r", 1.8).attr("fill", "none").attr("stroke", blue).attr("stroke-width", 1);
                } else {
                    pts.attr("r", 1.35).attr("fill", blue);
                }
            }

            // BOTTOM TICKS
            if (r === 2 || (r === 1 && c === 0)) {
                const vr = grp.vars[c];
                const ax = g.append("g")
                    .attr("transform", `translate(0,${h})`)
                    .call(d3.axisBottom(xScale)
                        .tickValues(vr.ticks)
                        .tickFormat((d, i) => vr.tickLabels[i])
                        .tickSize(-5.5)
                        .tickPadding(8));
                styleAxis(ax, r === 2, grp.tickFont);
            }

            // LEFT TICKS
            if (c === 0 && r > 0) {
                const vr = grp.vars[r];
                const ay = g.append("g")
                    .call(d3.axisLeft(yScale)
                        .tickValues(vr.ticks)
                        .tickFormat((d, i) => vr.tickLabels[i])
                        .tickSize(-5.5)
                        .tickPadding(5));
                styleAxis(ay, true, grp.tickFont);
            }
            if (c === 1 && r === 2 && grp.extraTicks) {
                const ay = g.append("g")
                    .call(d3.axisLeft(yScale).tickValues(grp.extraTicks).tickSize(-5.5));
                styleAxis(ay, false, grp.tickFont);
            }

            // BOX
            g.append("rect")
                .attr("width", panelW)
                .attr("height", h)
                .attr("fill", "none")
                .attr("stroke", ink)
                .attr("stroke-width", 1.3);

            // AXIS LABELS
            if (r === 2) {
                const t = g.append("text")
                    .attr("x", panelW / 2)
                    .attr("y", h + grp.xLabelDy)
                    .attr("text-anchor", "middle")
                    .attr("font-size", 20);
                writeLabel(t, grp.vars[c].label);
            }
            if (c === 0 && r > 0) {
                const t = g.append("text")
                    .attr("transform", `translate(${grp.yLabelX - x0},${h / 2}) rotate(-90)`)
                    .attr("text-anchor", "middle")
                    .attr("font-size", 20);
                writeLabel(t, grp.vars[r].label);
            }
        }
    }

    // CAPTIONS
    svg.append("text")
        .attr("x", 303).attr("y", grp.cap[0])
        .attr("text-anchor", "middle")
        .attr("font-size", 20)
        .text(captionsCn[gi]);
    svg.append("text")
        .attr("x", 303).attr("y", grp.cap[1])
        .attr("text-anchor", "middle")
        .attr("font-size", 20)
        .text(captionsEn[gi]);
});

</script>
</body>
</html>
